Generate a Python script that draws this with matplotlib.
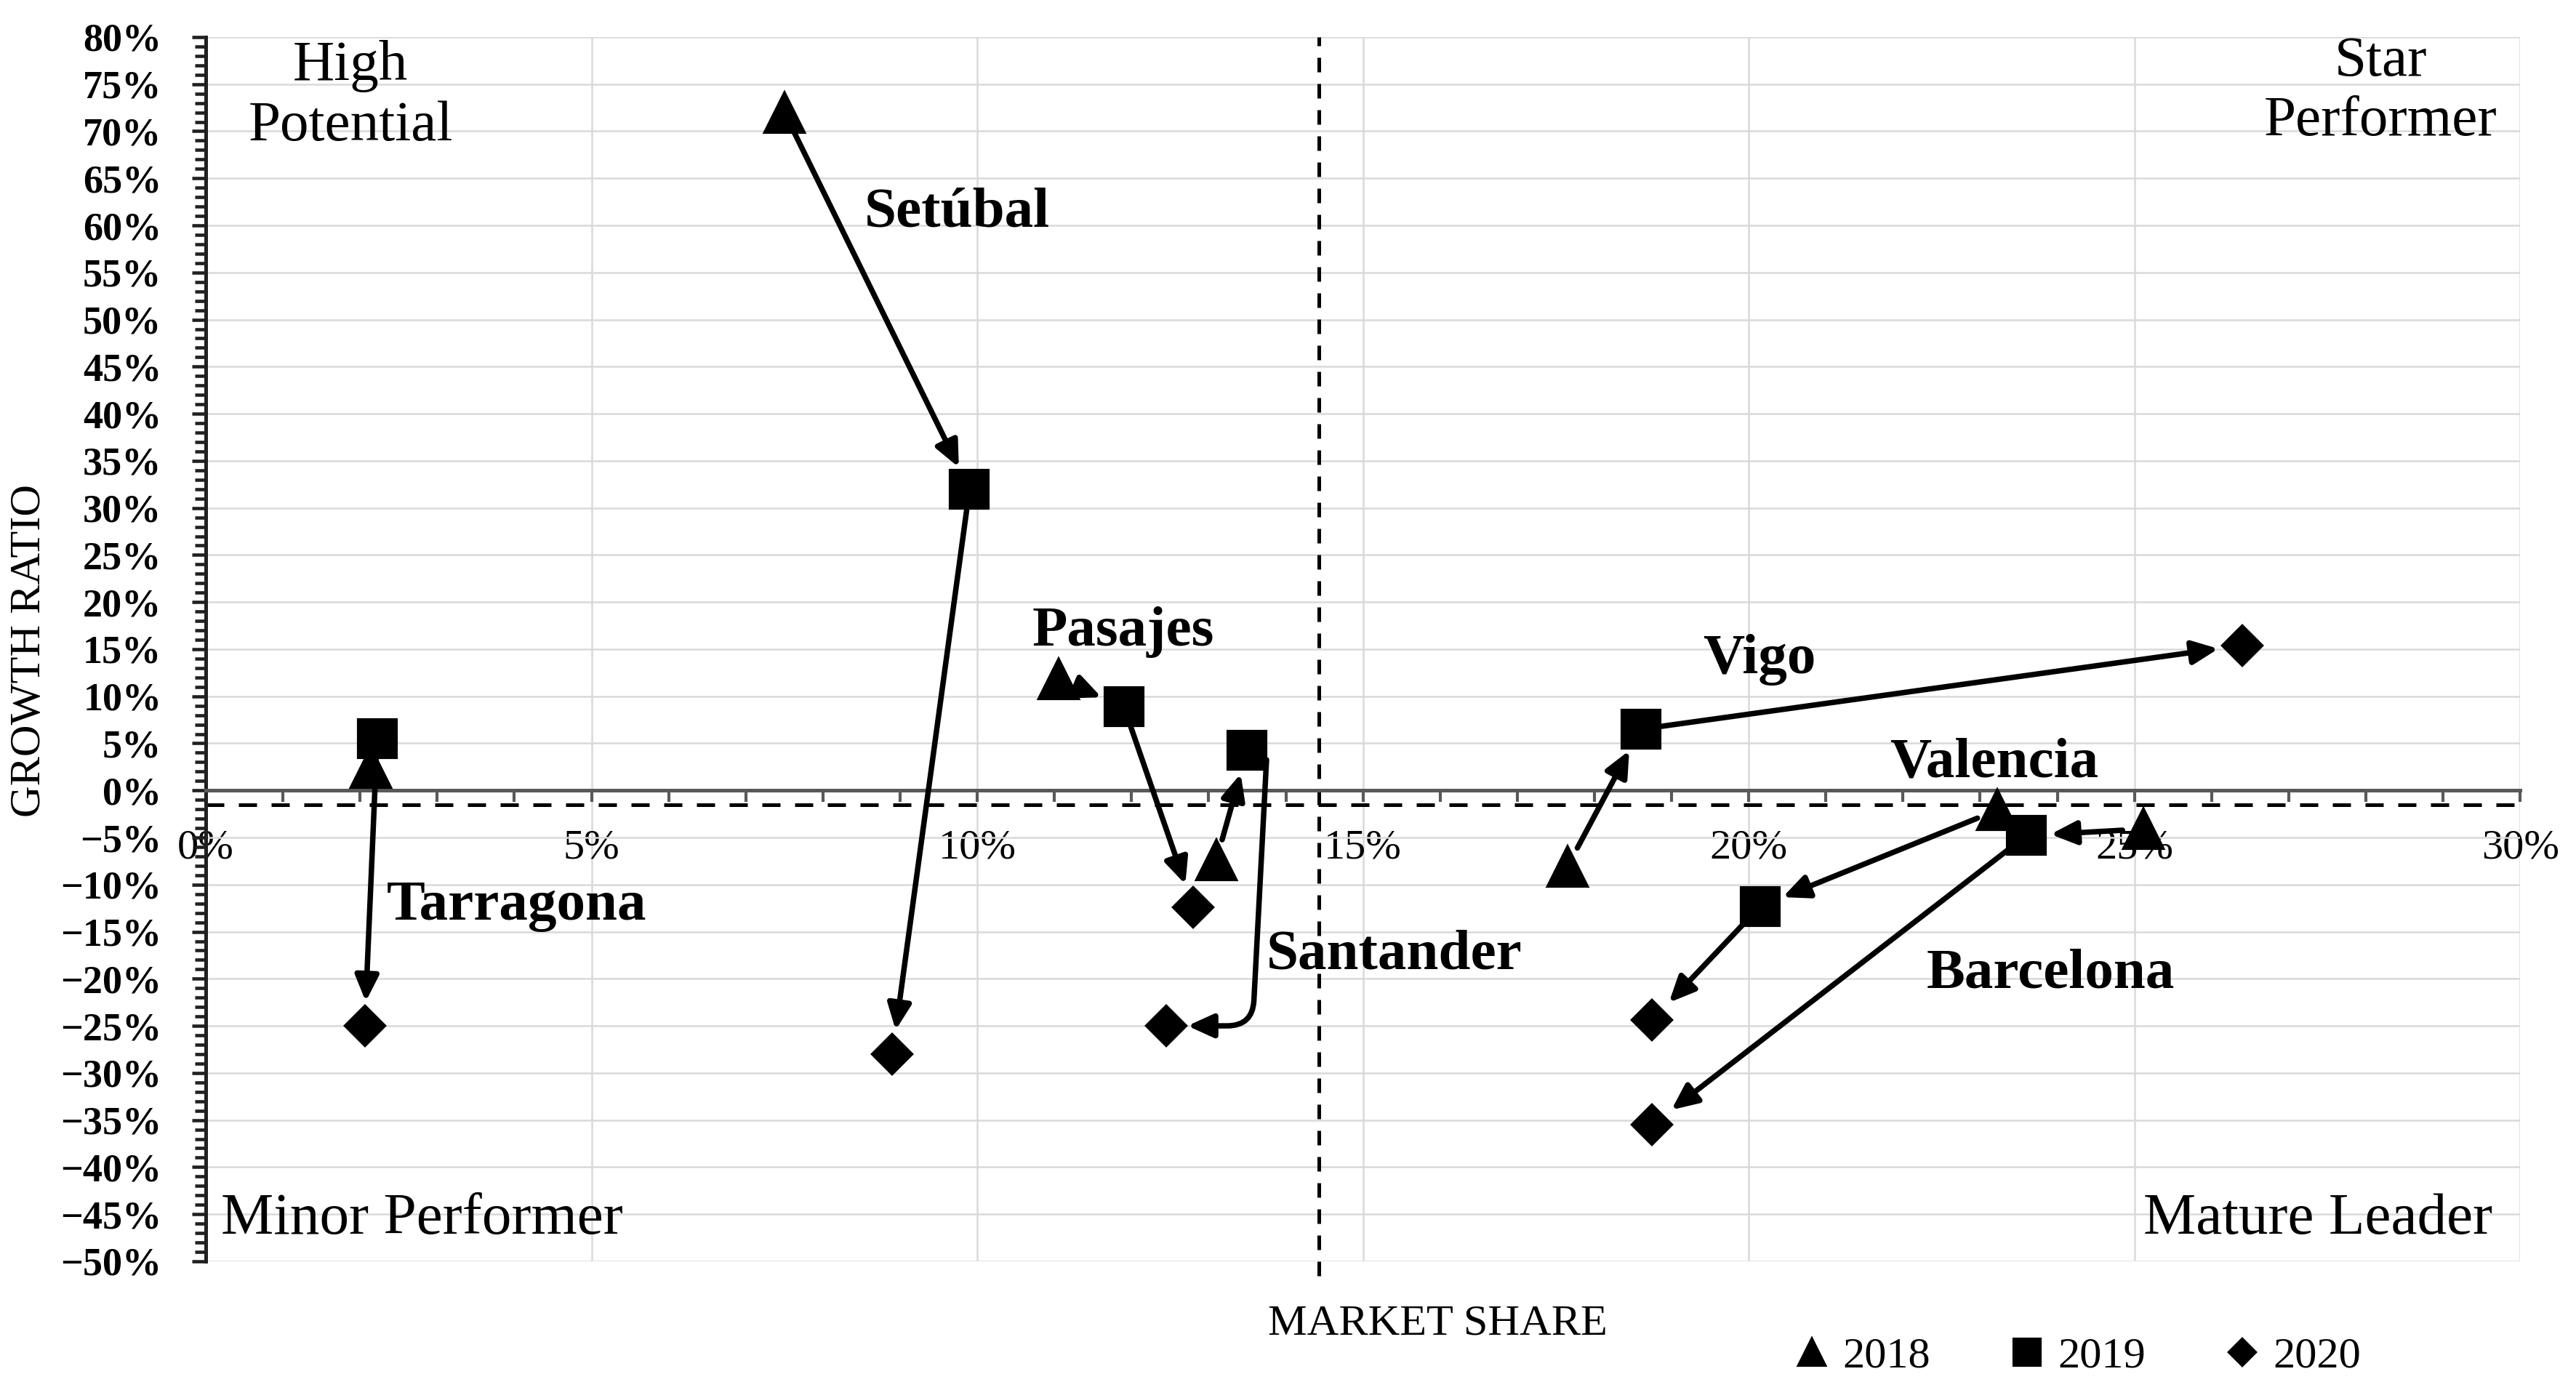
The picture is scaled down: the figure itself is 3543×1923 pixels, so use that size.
import numpy as np
import matplotlib.pyplot as plt
from matplotlib.ticker import MultipleLocator, FuncFormatter

plt.rcParams['font.family'] = ['Liberation Serif', 'DejaVu Serif']

# data (market share %, growth ratio %)
ports = ['Tarragona', 'Setúbal', 'Pasajes', 'Santander', 'Vigo', 'Valencia', 'Barcelona']
share_2018 = [2.14, 7.5, 11.05, 13.1, 17.65, 23.22, 25.12]
growth_2018 = [2.4, 72.0, 11.8, -7.4, -8.1, -2.1, -4.1]
share_2019 = [2.22, 9.9, 11.9, 13.5, 18.6, 20.15, 23.6]
growth_2019 = [5.5, 32.0, 8.9, 4.25, 6.5, -12.3, -4.8]
share_2020 = [2.06, 8.9, 12.8, 12.45, 26.4, 18.75, 18.75]
growth_2020 = [-25.0, -28.0, -12.4, -25.0, 15.4, -24.4, -35.5]

years = ['2018', '2019', '2020']
mean_share = 14.43
mean_growth = -1.5

# label positions for the port names
label_x = [4.03, 9.74, 11.89, 15.41, 20.14, 23.18, 23.91]
label_y = [-12.3, 61.3, 16.8, -17.5, 13.9, 2.9, -19.5]

fig = plt.figure(figsize=(3543 / 300, 1923 / 300), dpi=300)
ax = fig.add_axes([0.0799, 0.0978, 0.9783 - 0.0799, 0.9735 - 0.0978])

ax.set_xlim(0, 30)
ax.set_ylim(-50, 80)

# grid
ax.set_axisbelow(True)
ax.xaxis.set_major_locator(MultipleLocator(5))
ax.xaxis.set_minor_locator(MultipleLocator(1))
ax.yaxis.set_major_locator(MultipleLocator(5))
ax.yaxis.set_minor_locator(MultipleLocator(1))
ax.grid(which='major', color='#d9d9d9', lw=0.6)

# spines
ax.spines['top'].set_visible(False)
ax.spines['right'].set_visible(False)
ax.spines['bottom'].set_position(('data', 0))
ax.spines['bottom'].set_color('#595959')
ax.spines['bottom'].set_linewidth(1.2)
ax.spines['left'].set_color('#202020')
ax.spines['left'].set_linewidth(1.2)

ax.xaxis.set_major_formatter(FuncFormatter(lambda v, p: f'{v:.0f}%'))
ax.yaxis.set_major_formatter(FuncFormatter(lambda v, p: f'{v:.0f}%'.replace('-', '\u2212')))
ax.tick_params(axis='x', which='both', direction='out', length=3.8, width=1.0,
               color='#595959', labelsize=14, pad=9)
ax.tick_params(axis='y', which='major', direction='out', length=4.6, width=1.1,
               color='#202020', labelsize=13, pad=10)
ax.tick_params(axis='y', which='minor', direction='out', length=3.6, width=1.1,
               color='#202020')
for t in ax.get_yticklabels():
    t.set_fontweight('bold')

# quadrant split lines
ax.axvline(mean_share, ymin=-0.012, ymax=1, color='black', lw=1.2,
           ls=(0, (4, 3.2)), clip_on=False, zorder=2)
ax.axhline(mean_growth, color='black', lw=1.2, ls=(0, (5, 4)), zorder=2)

# arrows between years
arrow_style = '-|>,head_length=0.55,head_width=0.25'
steps = [(share_2018, growth_2018, share_2019, growth_2019),
         (share_2019, growth_2019, share_2020, growth_2020)]
for k, (xa, ya, xb, yb) in enumerate(steps):
    for i, port in enumerate(ports):
        p0 = ax.transData.transform((xa[i], ya[i]))
        p1 = ax.transData.transform((xb[i], yb[i]))
        dist_pt = np.hypot(*(p1 - p0)) * 72 / fig.dpi
        if dist_pt < 20:
            continue
        if port == 'Santander' and k == 1:
            ax.annotate('', xy=(xb[i], yb[i]), xytext=(xa[i] + 0.25, ya[i] - 1),
                        arrowprops=dict(arrowstyle=arrow_style, mutation_scale=13,
                                        lw=1.8, color='black', shrinkA=0, shrinkB=7,
                                        connectionstyle='angle,angleA=87,angleB=0,rad=35'),
                        zorder=3)
        else:
            ax.annotate('', xy=(xb[i], yb[i]), xytext=(xa[i], ya[i]),
                        arrowprops=dict(arrowstyle=arrow_style, mutation_scale=13,
                                        lw=1.8, color='black', shrinkA=7, shrinkB=8),
                        zorder=3)

# markers
ax.plot(share_2018, growth_2018, ls='none', marker='^', ms=13, color='black',
        label=years[0], zorder=4)
ax.plot(share_2019, growth_2019, ls='none', marker='s', ms=12.5, color='black',
        label=years[1], zorder=4)
ax.plot(share_2020, growth_2020, ls='none', marker='D', ms=9, color='black',
        label=years[2], zorder=4)

# port names
for i, port in enumerate(ports):
    ax.text(label_x[i], label_y[i], port, fontsize=19, fontweight='bold',
            ha='center', va='center', zorder=5)

# quadrant names
ax.text(1.875, 73.7, 'High\nPotential', fontsize=19, ha='center', va='center', linespacing=1.2)
ax.text(28.19, 74.2, 'Star\nPerformer', fontsize=19, ha='center', va='center', linespacing=1.2)
ax.text(0.2, -45.6, 'Minor Performer', fontsize=19.5, ha='left', va='center')
ax.text(29.64, -45.6, 'Mature Leader', fontsize=19.5, ha='right', va='center')

# axis titles
fig.text(41 / 3543, 1 - 895 / 1923, 'GROWTH RATIO', rotation=90, fontsize=14.5,
         ha='center', va='center')
fig.text(1977 / 3543, 1 - 1821 / 1923, 'MARKET SHARE', fontsize=14.5,
         ha='center', va='center')

fig.legend(loc='center', bbox_to_anchor=(0.8066, 0.0296), ncol=3, frameon=False,
           fontsize=14.5, markerscale=0.68, handlelength=0.8, handletextpad=0.3,
           columnspacing=1.8)

fig.savefig('out.png', dpi=300)
